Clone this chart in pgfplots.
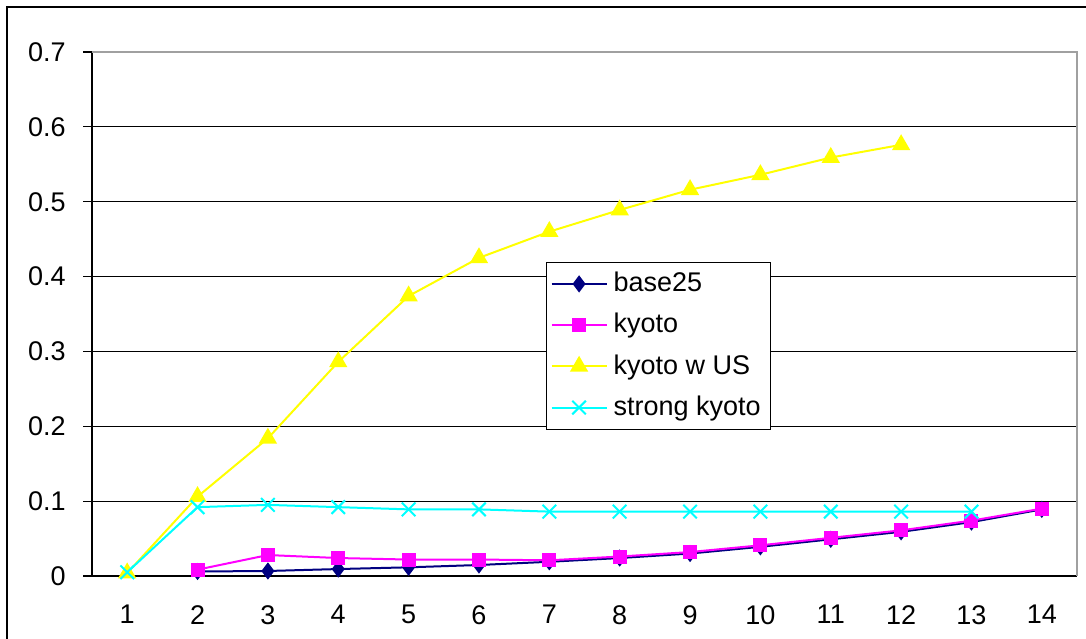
\documentclass[border=0pt]{standalone}
\usepackage{pgfplots}
\pgfplotsset{compat=1.18}
\usepackage{fontspec}
\setmainfont{Liberation Sans}
\definecolor{navyb}{HTML}{000080}
\definecolor{mag}{HTML}{FF00FF}
\definecolor{yel}{HTML}{FFFF00}
\definecolor{cya}{HTML}{00FFFF}
\definecolor{brd}{HTML}{A0A0A0}
\begin{document}
\begin{tikzpicture}[x=1pt,y=1pt]
\fontsize{13.5}{16}\selectfont
\begin{axis}[
  at={(46pt,31pt)}, anchor=south west,
  scale only axis, width=492.5pt, height=262pt,
  xmin=0.5, xmax=14.5, ymin=0, ymax=0.7,
  axis x line*=bottom, axis y line*=left,
  axis line style={black, line width=0.6pt},
  xtick={1,...,14},
  xticklabels={1,2,3,4,5,6,7,8,9,10,11,12,13,14},
  ytick={0,0.1,...,0.7},
  yticklabels={0,0.1,0.2,0.3,0.4,0.5,0.6,0.7},
  minor xtick={0.5,1.5,...,14.5},
  tick align=outside,
  major tick length=4.5pt, minor tick length=4.5pt,
  xtick style={draw=none},
  minor x tick style={black, line width=0.6pt},
  ytick style={black, line width=0.6pt},
  ymajorgrids, grid style={black, line width=0.5pt},
  tick label style={font=\fontsize{13.5}{16}\selectfont},
  xticklabel style={yshift=-5.5pt},
  yticklabel style={xshift=-4pt},
  legend style={at={(0.461,0.6)}, anchor=north west, draw=black, line width=0.5pt, fill=white,
    font=\fontsize{13.5}{16}\selectfont, inner xsep=2pt, inner ysep=3pt, row sep=4.8pt,
    nodes={inner xsep=3pt}},
  legend cell align=left,
  legend image code/.code={\draw[mark repeat=2,mark phase=2] plot coordinates {(0pt,0pt) (13.75pt,0pt) (27.5pt,0pt)};},
  every axis plot/.append style={line width=1pt},
  clip=false,
]
\addplot[navyb, mark=diamond*, mark size=3.5pt, mark options={fill=navyb, draw=navyb}] coordinates {
(2,0.006) (3,0.0067) (4,0.0093) (5,0.0116) (6,0.0147) (7,0.019) (8,0.024) (9,0.030) (10,0.039) (11,0.049) (12,0.059) (13,0.072) (14,0.089)};
\addlegendentry{base25}
\addplot[mag, mark=square*, mark size=3pt, mark options={fill=mag, draw=mag}] coordinates {
(2,0.0085) (3,0.028) (4,0.024) (5,0.022) (6,0.022) (7,0.021) (8,0.026) (9,0.032) (10,0.041) (11,0.051) (12,0.061) (13,0.074) (14,0.090)};
\addlegendentry{kyoto}
\addplot[yel, mark=triangle*, mark size=4.3pt, mark options={fill=yel, draw=yel}] coordinates {
(1,0.004) (2,0.106) (3,0.184) (4,0.286) (5,0.374) (6,0.425) (7,0.460) (8,0.489) (9,0.516) (10,0.536) (11,0.559) (12,0.576)};
\addlegendentry{kyoto w US}
\addplot[cya, mark=x, mark size=4.8pt, mark options={draw=cya, line width=1pt}] coordinates {
(1,0.005) (2,0.092) (3,0.095) (4,0.092) (5,0.089) (6,0.089) (7,0.086) (8,0.086) (9,0.086) (10,0.086) (11,0.086) (12,0.086) (13,0.086)};
\addlegendentry{strong kyoto}
\draw[brd, line width=1pt] (rel axis cs:0,1) -- (rel axis cs:1,1) -- (rel axis cs:1,0);
\end{axis}
\draw[black, line width=1.3pt] (3.5,-10) -- (3.5,315.5) -- (560,315.5);
\pgfresetboundingbox
\useasboundingbox (0,0) rectangle (543,319);
\end{tikzpicture}
\end{document}
